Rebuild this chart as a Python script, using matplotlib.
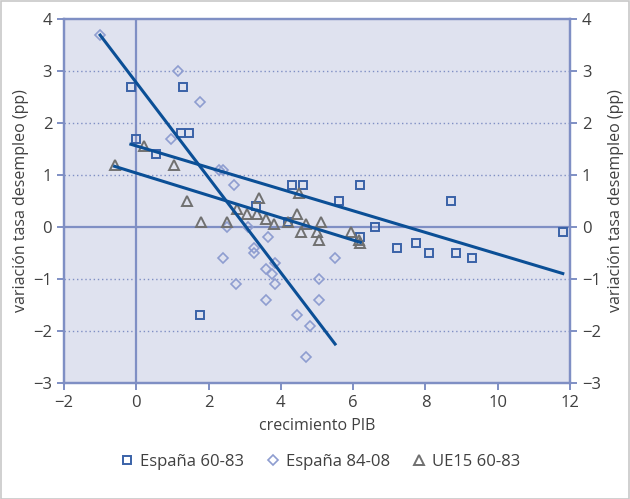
import numpy as np
import matplotlib
matplotlib.use('Agg')
from matplotlib import pyplot as plt
from matplotlib.patches import Rectangle

plt.rcParams['font.family'] = ['Open Sans', 'DejaVu Sans']

# España 1960-1983: crecimiento PIB vs variación del paro
esp6083_x = [-0.15, 1.3, 0.0, 1.25, 1.45, 0.55, 4.3, 4.6, 6.2, 5.6, 8.7, 3.3,
             4.2, 6.6, 6.2, 7.2, 7.75, 8.1, 8.85, 9.3, 11.8, 1.75]
esp6083_y = [2.7, 2.7, 1.7, 1.8, 1.8, 1.4, 0.8, 0.8, 0.8, 0.5, 0.5, 0.4,
             0.1, 0.0, -0.2, -0.4, -0.3, -0.5, -0.5, -0.6, -0.1, -1.7]

# España 1984-2008
esp8408_x = [-1.0, 1.15, 1.75, 0.95, 2.3, 2.4, 2.7, 2.5, 3.1, 3.65, 3.25, 3.25,
             2.4, 3.85, 3.6, 3.75, 5.5, 2.75, 3.85, 5.05, 3.6, 5.05, 4.45, 4.8, 4.7]
esp8408_y = [3.7, 3.0, 2.4, 1.7, 1.1, 1.1, 0.8, 0.0, 0.0, -0.2, -0.4, -0.5,
             -0.6, -0.7, -0.8, -0.9, -0.6, -1.1, -1.1, -1.0, -1.4, -1.4, -1.7, -1.9, -2.5]

# UE15 1960-1983
ue15_x = [-0.6, 0.2, 1.05, 1.4, 3.4, 1.8, 2.5, 2.8, 3.05, 3.35, 3.6, 3.8,
          4.45, 4.5, 4.2, 4.55, 4.7, 5.0, 5.1, 5.05, 5.95, 6.15, 6.2]
ue15_y = [1.2, 1.55, 1.2, 0.5, 0.55, 0.1, 0.1, 0.35, 0.25, 0.25, 0.15, 0.05,
          0.25, 0.65, 0.1, -0.1, 0.05, -0.1, 0.1, -0.25, -0.1, -0.25, -0.3]

# rectas de tendencia (pendiente, ordenada)
trend_esp6083 = (-0.208, 1.559)
trend_esp8408 = (-0.914, 2.776)
trend_ue15 = (-0.215, 1.037)

axis_col = '#7F8FC4'
text_col = '#404040'
line_col = '#0B4F96'

fig = plt.figure(figsize=(6.3, 4.99), dpi=100)
ax = fig.add_axes([0.1016, 0.2325, 0.8032, 0.7295])
ax.set_facecolor('#DFE2EF')

ax.set_xlim(-2, 12)
ax.set_ylim(-3, 4)
ax.set_xticks(range(-2, 13, 2))
ax.set_yticks(range(-3, 5))

for v in [-2, -1, 1, 2, 3]:
    ax.axhline(v, color=axis_col, lw=1.0, ls=(0, (1, 2)), zorder=1)
ax.axhline(0, color=axis_col, lw=1.6, zorder=1)
ax.axvline(0, color=axis_col, lw=1.6, zorder=1)

for sp in ax.spines.values():
    sp.set_color(axis_col)
    sp.set_linewidth(1.6)

ms = 6
ax.plot(esp6083_x, esp6083_y, ls='none', marker='s', ms=ms, mfc='none',
        mec='#3A62A8', mew=1.4, label='España 60-83', zorder=3)
ax.plot(esp8408_x, esp8408_y, ls='none', marker='D', ms=ms - 0.5, mfc='none',
        mec='#8E9DD0', mew=1.2, label='España 84-08', zorder=3)
ax.plot(ue15_x, ue15_y, ls='none', marker='^', ms=ms + 1, mfc='none',
        mec='#707070', mew=1.4, label='UE15 60-83', zorder=3)

for xs, (m, b) in [(esp6083_x, trend_esp6083), (esp8408_x, trend_esp8408),
                   (ue15_x, trend_ue15)]:
    xx = np.array([min(xs), max(xs)])
    ax.plot(xx, m * xx + b, color=line_col, lw=2.2, zorder=4)

ax.tick_params(axis='both', colors=axis_col, labelcolor=text_col,
               labelsize=12, length=5, width=1.4, direction='out')
ax.set_xlabel('crecimiento PIB', color=text_col, fontsize=11.5, labelpad=5)
ax.set_ylabel('variación tasa desempleo (pp)', color=text_col, fontsize=11.5, labelpad=3)

ax2 = ax.twinx()
ax2.set_ylim(-3, 4)
ax2.set_yticks(range(-3, 5))
ax2.tick_params(axis='y', colors=axis_col, labelcolor=text_col,
                labelsize=12, length=5, width=1.4, direction='out')
for sp in ax2.spines.values():
    sp.set_color(axis_col)
    sp.set_linewidth(1.6)
ax2.set_ylabel('variación tasa desempleo (pp)', color=text_col, fontsize=11.5, labelpad=5)

leg = fig.legend(loc='center', bbox_to_anchor=(0.507, 0.074), ncol=3, frameon=False,
                 fontsize=12, handletextpad=0.3, columnspacing=1.2, handlelength=1.0)
for t in leg.get_texts():
    t.set_color(text_col)

fig.patches.append(Rectangle((0.001, 0.001), 0.997, 0.997, transform=fig.transFigure,
                             fill=False, edgecolor='#C8C8C8', lw=1.2))

fig.savefig('out.png', dpi=100)
